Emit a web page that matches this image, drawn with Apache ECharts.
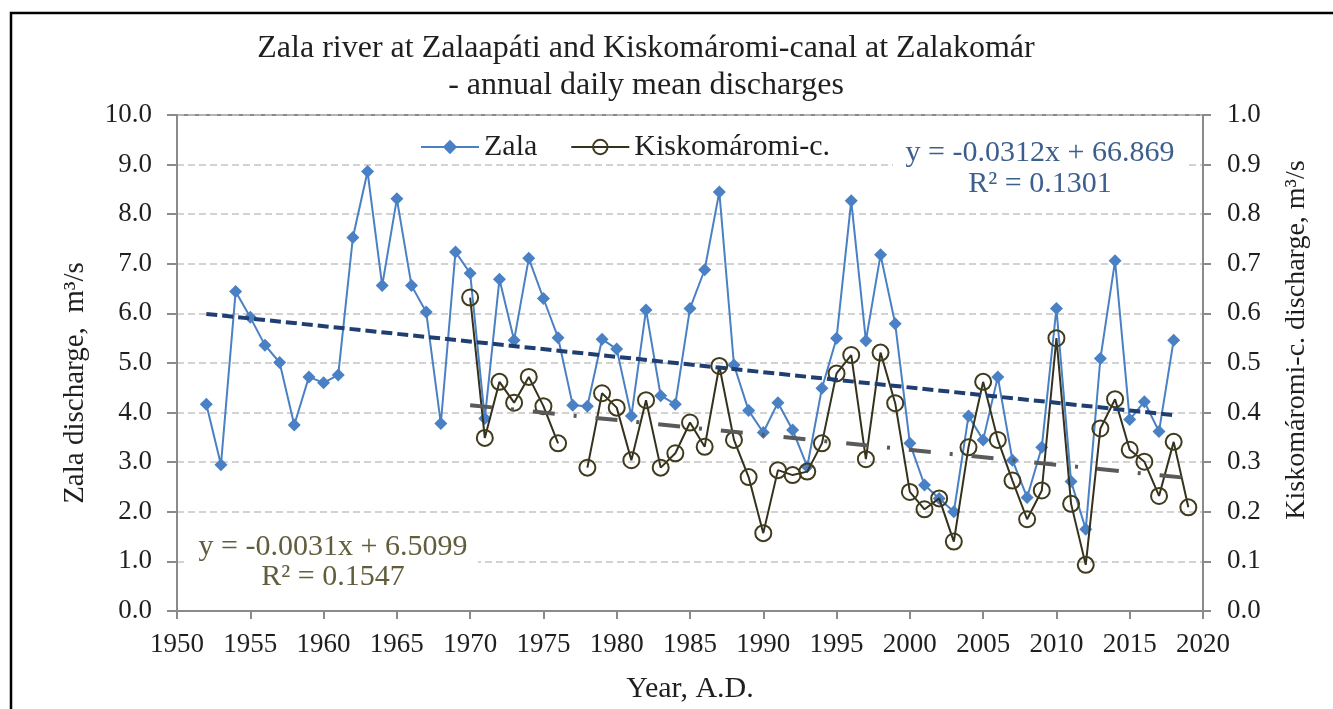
<!DOCTYPE html>
<html>
<head>
<meta charset="utf-8">
<script src="https://cdn.jsdelivr.net/npm/echarts@6/dist/echarts.min.js"></script>
<style>html,body{margin:0;padding:0;background:#fff;}#chart{width:1333px;height:709px;}</style>
</head>
<body>
<div id="chart"></div>
<script>
// ---- data ----
const zalaYears = [1952,1953,1954,1955,1956,1957,1958,1959,1960,1961,1962,1963,1964,1965,1966,1967,1968,1969,1970,1971,1972,1973,1974,1975,1976,1977,1978,1979,1980,1981,1982,1983,1984,1985,1986,1987,1988,1989,1990,1991,1992,1993,1994,1995,1996,1997,1998,1999,2000,2001,2002,2003,2004,2005,2006,2007,2008,2009,2010,2011,2012,2013,2014,2015,2016,2017,2018];
const zalaValues = [4.17,2.95,6.44,5.92,5.36,5.01,3.75,4.72,4.60,4.76,7.53,8.86,6.56,8.31,6.56,6.03,3.78,7.24,6.81,3.88,6.69,5.46,7.11,6.30,5.51,4.15,4.13,5.48,5.28,3.93,6.07,4.34,4.17,6.10,6.88,8.45,4.96,4.04,3.60,4.20,3.65,2.91,4.49,5.50,8.27,5.45,7.18,5.79,3.38,2.54,2.27,2.00,3.93,3.45,4.72,3.04,2.29,3.30,6.10,2.61,1.65,5.09,7.06,3.86,4.22,3.62,5.46];
const kiskYears = [1970,1971,1972,1973,1974,1975,1976,1977,1978,1979,1980,1981,1982,1983,1984,1985,1986,1987,1988,1989,1990,1991,1992,1993,1994,1995,1996,1997,1998,1999,2000,2001,2002,2003,2004,2005,2006,2007,2008,2009,2010,2011,2012,2013,2014,2015,2016,2017,2018,2019];
const kiskValues = [0.632,0.349,0.462,0.420,0.472,0.413,0.338,null,0.289,0.439,0.410,0.304,0.425,0.289,0.318,0.380,0.331,0.494,0.345,0.270,0.157,0.284,0.274,0.281,0.338,0.479,0.516,0.306,0.521,0.419,0.240,0.205,0.227,0.140,0.330,0.462,0.345,0.263,0.185,0.243,0.550,0.216,0.093,0.368,0.427,0.325,0.301,0.232,0.341,0.209];
const zalaTrendYears = [1952, 2018];
const zalaTrendValues = [5.99, 3.95];
const kiskTrendYears = [1970, 2019];
const kiskTrendValues = [0.415, 0.268];
const xTicks = [1950, 2020, 5];
const leftTicks = [0, 10, 1];
const rightTicks = [0, 1, 0.1];
const titleLines = ['Zala river at Zalaapáti and Kiskomáromi-canal at Zalakomár', '- annual daily mean discharges'];
const zalaEq = ['y = -0.0312x + 66.869', 'R² = 0.1301'];
const kiskEq = ['y = -0.0031x + 6.5099', 'R² = 0.1547'];

const pairs = (xs, ys) => xs.map((x, i) => [x, ys[i]]);
const FONT = '"Liberation Serif", "Times New Roman", serif';
const TXT = '#1f1f1f';
const AX = '#8a8a8a';

const chart = echarts.init(document.getElementById('chart'), null, {renderer: 'canvas'});
chart.setOption({
  animation: false,
  backgroundColor: '#ffffff',
  title: {
    text: titleLines.join('\n'),
    left: 641, top: 25, textAlign: 'center',
    textStyle: {fontFamily: FONT, fontSize: 32, fontWeight: 'normal', color: TXT, lineHeight: 37}
  },
  legend: {
    left: 415, top: 127,
    itemWidth: 58, itemHeight: 18, itemGap: 33,
    textStyle: {fontFamily: FONT, fontSize: 30, color: TXT},
    data: ['Zala', 'Kiskomáromi-c.']
  },
  grid: {left: 177, right: 130, top: 115, bottom: 98, show: true, borderColor: AX, borderWidth: 2, backgroundColor: 'transparent'},
  xAxis: {
    type: 'value', min: xTicks[0], max: xTicks[1], interval: xTicks[2],
    name: 'Year, A.D.', nameLocation: 'middle', nameGap: 63,
    nameTextStyle: {fontFamily: FONT, fontSize: 30, color: TXT},
    axisLine: {show: true, lineStyle: {color: AX, width: 2}},
    axisTick: {show: true, length: 8, lineStyle: {color: AX, width: 2}},
    axisLabel: {fontFamily: FONT, fontSize: 27, color: TXT, margin: 20, formatter: v => String(v)},
    splitLine: {show: false}
  },
  yAxis: [{
    type: 'value', min: leftTicks[0], max: leftTicks[1], interval: leftTicks[2], position: 'left',
    name: 'Zala discharge,  m³/s', nameLocation: 'middle', nameGap: 87, nameRotate: 90,
    nameTextStyle: {fontFamily: FONT, fontSize: 29, color: TXT, padding: [0, 40, 0, 0]},
    axisLine: {show: true, lineStyle: {color: AX, width: 2}},
    axisTick: {show: true, length: 10, lineStyle: {color: AX, width: 2}},
    axisLabel: {fontFamily: FONT, fontSize: 27, color: TXT, margin: 25, formatter: v => v.toFixed(1)},
    splitLine: {show: true, lineStyle: {color: '#c4c4c4', width: 1.5, type: [7, 4]}}
  }, {
    type: 'value', min: rightTicks[0], max: rightTicks[1], interval: rightTicks[2], position: 'right',
    name: 'Kiskomáromi-c. discharge, m³/s', nameLocation: 'middle', nameGap: 80, nameRotate: 90,
    nameTextStyle: {fontFamily: FONT, fontSize: 28, color: TXT, padding: [0, 0, 0, 46]},
    axisLine: {show: true, lineStyle: {color: AX, width: 2}},
    axisTick: {show: true, length: 8, lineStyle: {color: AX, width: 2}},
    axisLabel: {fontFamily: FONT, fontSize: 27, color: TXT, margin: 24, formatter: v => v.toFixed(1)},
    splitLine: {show: false}
  }],
  graphic: [
    {type: 'rect', shape: {x: 11, y: 13, width: 1340, height: 720}, style: {fill: 'none', stroke: '#000', lineWidth: 2.5}, z: 100},
    {type: 'rect', shape: {x: 893, y: 133, width: 292, height: 68}, style: {fill: '#fff'}, z: 1},
    {type: 'text', x: 1040, y: 153, style: {text: zalaEq[0], fontFamily: FONT, fontSize: 30, fill: '#3d5f8c', align: 'center', verticalAlign: 'middle'}, z: 2},
    {type: 'text', x: 1040, y: 184, style: {text: zalaEq[1], fontFamily: FONT, fontSize: 30, fill: '#3d5f8c', align: 'center', verticalAlign: 'middle'}, z: 2},
    {type: 'rect', shape: {x: 186, y: 527, width: 292, height: 70}, style: {fill: '#fff'}, z: 1},
    {type: 'text', x: 333, y: 547, style: {text: kiskEq[0], fontFamily: FONT, fontSize: 30, fill: '#625d3c', align: 'center', verticalAlign: 'middle'}, z: 2},
    {type: 'text', x: 333, y: 577, style: {text: kiskEq[1], fontFamily: FONT, fontSize: 30, fill: '#625d3c', align: 'center', verticalAlign: 'middle'}, z: 2}
  ],
  series: [
    {
      name: 'Zala', type: 'line', yAxisIndex: 0, data: pairs(zalaYears, zalaValues),
      symbol: 'diamond', symbolSize: 13,
      lineStyle: {color: '#4a80c4', width: 2},
      itemStyle: {color: '#4a80c4'}, z: 3
    },
    {
      name: 'Kiskomáromi-c.', type: 'line', yAxisIndex: 1, data: pairs(kiskYears, kiskValues),
      connectNulls: false,
      symbol: 'circle', symbolSize: 16,
      lineStyle: {color: '#34311c', width: 2},
      itemStyle: {color: 'rgba(255,255,255,0)', borderColor: '#3f3b1c', borderWidth: 2}, z: 4
    },
    {
      name: 'zalaTrend', type: 'line', yAxisIndex: 0, data: pairs(zalaTrendYears, zalaTrendValues),
      symbol: 'none', lineStyle: {color: '#1f3f73', width: 4, type: [11, 5]}, z: 5, silent: true
    },
    {
      name: 'kiskTrend', type: 'line', yAxisIndex: 1, data: pairs(kiskTrendYears, kiskTrendValues),
      symbol: 'none', lineStyle: {color: '#5a5a5a', width: 4, type: [22, 19, 3, 19]}, z: 5, silent: true
    }
  ]
});
</script>
</body>
</html>
